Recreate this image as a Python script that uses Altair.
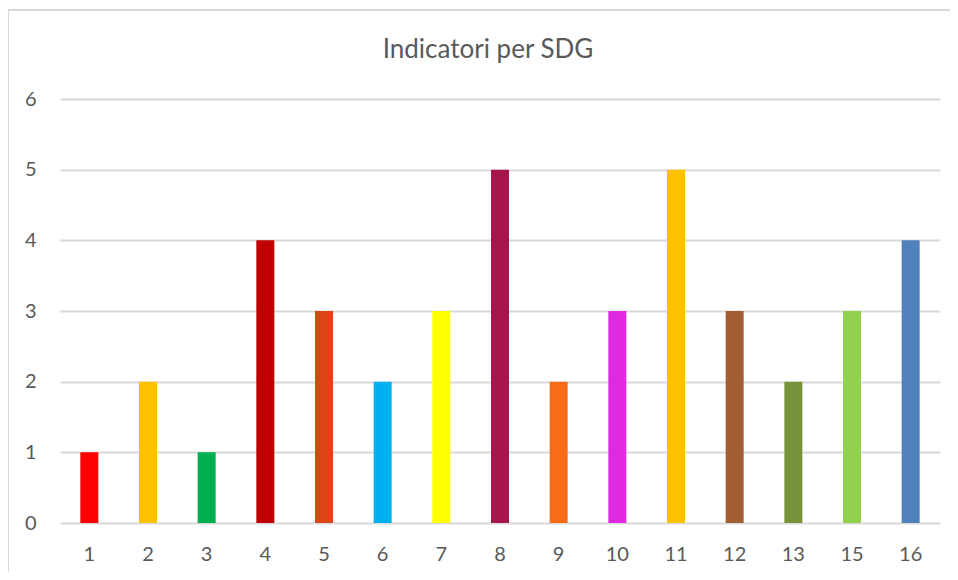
import altair as alt
import pandas as pd

categories = ["1", "2", "3", "4", "5", "6", "7", "8", "9", "10", "11", "12", "13", "15", "16"]
values = [1, 2, 1, 4, 3, 2, 3, 5, 2, 3, 5, 3, 2, 3, 4]
colors = ["#FF0000", "#FFC000", "#00B050", "#C00000", "#DD4516", "#00B0F0", "#FFFF00",
          "#A5174C", "#F86B17", "#E02AE0", "#FFC000", "#A35D33", "#77933C", "#92D050", "#4F81BD"]

df = pd.DataFrame({"SDG": categories, "Indicatori": values, "color": colors})

font = "Lato"
gray = "#595959"

bars = alt.Chart(df).mark_bar(size=18).encode(
    x=alt.X("SDG:N", sort=categories, title=None,
            axis=alt.Axis(labelAngle=0, ticks=False, domain=False, labelPadding=21,
                          labelFontSize=20, labelColor=gray, labelFont=font, grid=False)),
    y=alt.Y("Indicatori:Q", title=None, scale=alt.Scale(domain=[0, 6]),
            axis=alt.Axis(values=[0, 1, 2, 3, 4, 5, 6], ticks=False, domain=False, labelPadding=24,
                          labelFontSize=20, labelColor=gray, labelFont=font,
                          gridColor="#D9D9D9", gridWidth=2)),
    color=alt.Color("color:N", scale=None),
)

frame_left = alt.Chart(df).mark_rule(stroke="#D9D9D9", strokeWidth=2).encode(
    x=alt.value(-52), y=alt.value(-89), y2=alt.value(480)
)
frame_top = alt.Chart(df).mark_rule(stroke="#D9D9D9", strokeWidth=2).encode(
    x=alt.value(-52), x2=alt.value(890), y=alt.value(-89)
)

chart = alt.layer(frame_left, frame_top, bars).properties(
    width=880, height=424,
    autosize=alt.AutoSizeParams(type="none"),
    padding={"left": 52, "top": 91, "right": 10, "bottom": 49},
    title=alt.TitleParams("Indicatori per SDG", fontSize=26, font=font, color=gray,
                          fontWeight="normal", anchor="middle", dx=-12, offset=-54),
).configure_view(stroke=None)

chart.save("out.html", embed_options={"renderer": "svg", "actions": False})
